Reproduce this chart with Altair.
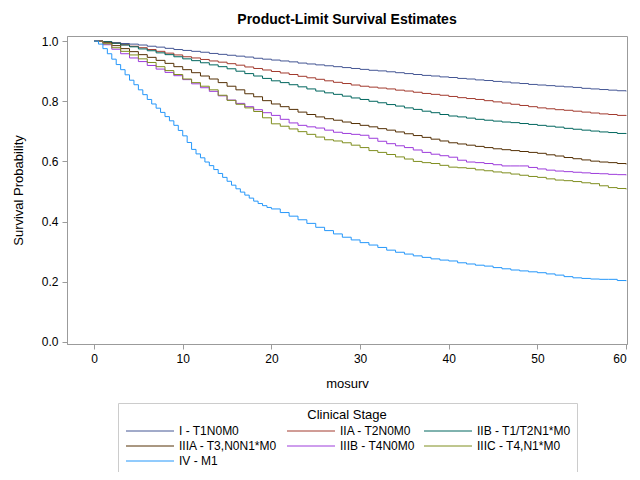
import altair as alt
import pandas as pd

months = list(range(0, 61))
months_iv = [0, 0.5, 1, 1.5, 2, 2.5, 3, 3.5, 4, 4.5, 5, 5.5, 6, 6.5, 7, 7.5, 8, 8.5, 9, 9.5,
             10, 10.5, 11, 11.5, 12, 12.5, 13, 13.5, 14, 14.5, 15, 15.5, 16, 16.5, 17, 17.5,
             18, 18.5, 19, 19.5, 20] + list(range(21, 61))

stages = ["I - T1N0M0", "IIA - T2N0M0", "IIB - T1/T2N1*M0", "IIIA - T3,N0N1*M0",
          "IIIB - T4N0M0", "IIIC - T4,N1*M0", "IV - M1"]

colors = ["#445694", "#A23A2E", "#01665E", "#543005", "#9D3CDB", "#7F8E1F", "#2597FA"]

surv_I = [1.000, 0.998, 0.995, 0.992, 0.990, 0.987, 0.983, 0.980, 0.976, 0.972, 0.969,
          0.966, 0.963, 0.959, 0.956, 0.953, 0.950, 0.947, 0.943, 0.940, 0.937,
          0.934, 0.931, 0.927, 0.924, 0.921, 0.918, 0.915, 0.912, 0.909, 0.906,
          0.903, 0.901, 0.898, 0.895, 0.892, 0.889, 0.886, 0.884, 0.881, 0.879,
          0.876, 0.874, 0.871, 0.869, 0.866, 0.864, 0.861, 0.859, 0.856, 0.854,
          0.852, 0.850, 0.848, 0.846, 0.843, 0.841, 0.839, 0.837, 0.835, 0.833]
surv_IIA = [1.000, 0.997, 0.993, 0.988, 0.983, 0.978, 0.972, 0.966, 0.960, 0.954, 0.948,
            0.944, 0.939, 0.934, 0.930, 0.925, 0.920, 0.914, 0.909, 0.904, 0.899,
            0.894, 0.889, 0.883, 0.878, 0.873, 0.868, 0.863, 0.859, 0.854, 0.850,
            0.847, 0.844, 0.841, 0.837, 0.834, 0.830, 0.826, 0.823, 0.820, 0.816,
            0.812, 0.809, 0.806, 0.802, 0.798, 0.794, 0.790, 0.786, 0.782, 0.778,
            0.775, 0.772, 0.770, 0.767, 0.764, 0.761, 0.758, 0.756, 0.753, 0.751]
surv_IIB = [1.000, 0.998, 0.993, 0.987, 0.981, 0.974, 0.968, 0.961, 0.955, 0.948, 0.941,
            0.935, 0.928, 0.921, 0.915, 0.908, 0.900, 0.892, 0.884, 0.876, 0.868,
            0.862, 0.855, 0.848, 0.841, 0.834, 0.828, 0.823, 0.817, 0.811, 0.806,
            0.800, 0.795, 0.789, 0.784, 0.778, 0.773, 0.767, 0.762, 0.756, 0.751,
            0.748, 0.744, 0.740, 0.737, 0.734, 0.731, 0.729, 0.726, 0.723, 0.720,
            0.717, 0.714, 0.710, 0.707, 0.704, 0.701, 0.698, 0.696, 0.693, 0.691]
surv_IIIA = [1.000, 0.994, 0.985, 0.975, 0.965, 0.955, 0.946, 0.936, 0.926, 0.915, 0.905,
             0.895, 0.884, 0.874, 0.862, 0.850, 0.838, 0.825, 0.815, 0.802, 0.791,
             0.782, 0.773, 0.764, 0.756, 0.748, 0.742, 0.737, 0.731, 0.726, 0.720,
             0.715, 0.709, 0.704, 0.698, 0.692, 0.686, 0.680, 0.674, 0.668, 0.662,
             0.658, 0.654, 0.650, 0.646, 0.642, 0.639, 0.636, 0.633, 0.630, 0.627,
             0.622, 0.618, 0.613, 0.609, 0.605, 0.601, 0.598, 0.596, 0.593, 0.590]
surv_IIIB = [1.000, 0.988, 0.973, 0.958, 0.944, 0.932, 0.919, 0.907, 0.896, 0.885, 0.872,
             0.858, 0.845, 0.833, 0.818, 0.804, 0.793, 0.782, 0.772, 0.762, 0.753,
             0.740, 0.728, 0.720, 0.715, 0.711, 0.704, 0.697, 0.693, 0.690, 0.687,
             0.677, 0.667, 0.659, 0.652, 0.646, 0.638, 0.630, 0.624, 0.619, 0.614,
             0.604, 0.598, 0.596, 0.593, 0.589, 0.585, 0.585, 0.585, 0.580, 0.575,
             0.571, 0.568, 0.566, 0.564, 0.562, 0.560, 0.559, 0.557, 0.556, 0.554]
surv_IIIC = [1.000, 0.991, 0.978, 0.966, 0.954, 0.941, 0.929, 0.915, 0.902, 0.889, 0.874,
             0.862, 0.850, 0.838, 0.820, 0.803, 0.790, 0.778, 0.766, 0.745, 0.725,
             0.717, 0.708, 0.699, 0.690, 0.681, 0.672, 0.668, 0.662, 0.654, 0.646,
             0.636, 0.630, 0.623, 0.615, 0.608, 0.600, 0.596, 0.593, 0.587, 0.581,
             0.579, 0.577, 0.572, 0.569, 0.565, 0.562, 0.558, 0.554, 0.550, 0.547,
             0.542, 0.538, 0.536, 0.533, 0.529, 0.526, 0.519, 0.513, 0.510, 0.507]
surv_IV = [1.000, 0.990, 0.975, 0.958, 0.940, 0.922, 0.905, 0.888, 0.870, 0.855, 0.838,
           0.822, 0.806, 0.791, 0.777, 0.763, 0.749, 0.735, 0.720, 0.703, 0.685,
           0.663, 0.640, 0.625, 0.612, 0.598, 0.586, 0.573, 0.560, 0.547, 0.534,
           0.521, 0.509, 0.498, 0.488, 0.478, 0.468, 0.460, 0.453, 0.447, 0.442,
           0.430, 0.418, 0.406, 0.394, 0.381, 0.370, 0.359, 0.348, 0.339, 0.330,
           0.322, 0.314, 0.305, 0.298, 0.292, 0.286, 0.281, 0.276, 0.272, 0.269,
           0.263, 0.259, 0.255, 0.252, 0.247, 0.243, 0.239, 0.236, 0.233, 0.230,
           0.226, 0.222, 0.217, 0.213, 0.211, 0.209, 0.208, 0.208, 0.204, 0.202]

series = [surv_I, surv_IIA, surv_IIB, surv_IIIA, surv_IIIB, surv_IIIC, surv_IV]
times = [months, months, months, months, months, months, months_iv]

rows = []
for stage, ts, vals in zip(stages, times, series):
    for t, v in zip(ts, vals):
        rows.append({"mosurv": t, "surv": v, "stage": stage})
df = pd.DataFrame(rows)

FONT = "Liberation Sans"
GRAY = "#9B9B9B"

chart = alt.Chart(df).mark_line(interpolate="step-after", strokeWidth=1, clip=True).encode(
    x=alt.X("mosurv:Q", title="mosurv",
            scale=alt.Scale(domain=[-3.05, 60.1], nice=False, zero=False),
            axis=alt.Axis(values=[0, 10, 20, 30, 40, 50, 60], format="d",
                          labelPadding=4, titlePadding=13)),
    y=alt.Y("surv:Q", title="Survival Probability",
            scale=alt.Scale(domain=[-0.007, 1.017], nice=False, zero=False),
            axis=alt.Axis(values=[0, 0.2, 0.4, 0.6, 0.8, 1.0], format=".1f",
                          labelPadding=4, titlePadding=16)),
    color=alt.Color("stage:N", title="Clinical Stage",
                    scale=alt.Scale(domain=stages, range=colors),
                    sort=stages,
                    legend=alt.Legend(orient="none", legendX=51, legendY=367,
                                      direction="horizontal",
                                      columns=3, symbolType="M-1,0H11",
                                      symbolSize=64, symbolStrokeWidth=1,
                                      labelOffset=43, columnPadding=7,
                                      rowPadding=3, titleAnchor="middle",
                                      titleFontSize=13, titleFontWeight="normal",
                                      titleFont=FONT, labelFont=FONT,
                                      labelFontSize=12, titlePadding=3,
                                      strokeColor="#CCCCCC", padding=6,
                                      labelColor="black", titleColor="black")),
).properties(
    width=560, height=308,
    title=alt.TitleParams("Product-Limit Survival Estimates", font=FONT, fontSize=14,
                          fontWeight="bold", anchor="middle", offset=8, color="black"),
    autosize=alt.AutoSizeParams(type="none"),
    padding={"left": 59, "top": 28, "right": 5, "bottom": 128},
).configure_view(
    stroke=GRAY, strokeWidth=1
).configure_axis(
    grid=False, domainColor=GRAY, tickColor=GRAY, tickSize=5,
    labelFont=FONT, titleFont=FONT, labelFontSize=12, titleFontSize=13,
    titleFontWeight="normal", labelColor="black", titleColor="black"
)

chart.save("out.html", embed_options={"renderer": "svg", "actions": False})
